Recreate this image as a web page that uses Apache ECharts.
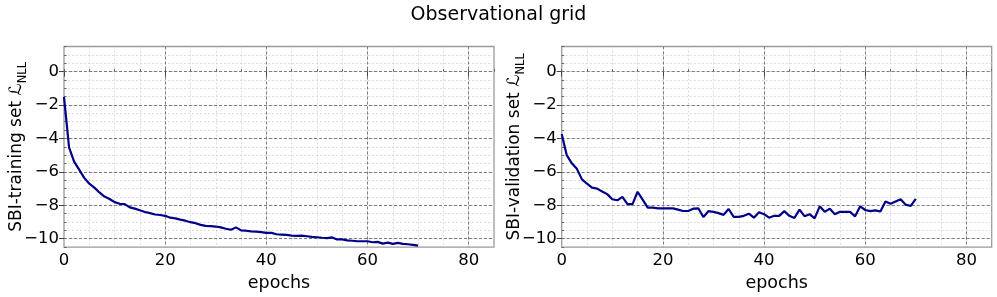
<!DOCTYPE html>
<html>
<head>
<meta charset="utf-8">
<script src="https://cdn.jsdelivr.net/npm/echarts@6/dist/echarts.min.js"></script>
<style>html,body{margin:0;padding:0;background:#fff}#c{width:997px;height:297px}</style>
</head>
<body>
<div id="c"></div>
<script>
const epochs = Array.from({length: 71}, (_, i) => i);
const trainLoss = [
  -1.51, -4.53, -5.39, -5.87, -6.36, -6.71, -6.94, -7.23, -7.48, -7.62,
  -7.81, -7.91, -7.93, -8.12, -8.20, -8.30, -8.40, -8.47, -8.55, -8.58,
  -8.63, -8.74, -8.78, -8.86, -8.92, -9.01, -9.07, -9.17, -9.23, -9.25,
  -9.27, -9.32, -9.40, -9.46, -9.32, -9.50, -9.52, -9.56, -9.58, -9.60,
  -9.65, -9.65, -9.73, -9.75, -9.77, -9.81, -9.83, -9.81, -9.85, -9.89,
  -9.91, -9.94, -9.96, -9.92, -10.04, -10.04, -10.10, -10.12, -10.15, -10.15,
  -10.15, -10.21, -10.19, -10.29, -10.23, -10.31, -10.25, -10.31, -10.33, -10.37,
  -10.41
];
const valLoss = [
  -3.74, -5.00, -5.49, -5.82, -6.45, -6.71, -6.94, -7.00, -7.17, -7.33,
  -7.64, -7.70, -7.50, -7.93, -7.93, -7.19, -7.66, -8.14, -8.14, -8.18,
  -8.18, -8.18, -8.18, -8.26, -8.34, -8.34, -8.20, -8.18, -8.70, -8.35,
  -8.39, -8.47, -8.57, -8.22, -8.69, -8.69, -8.63, -8.50, -8.74, -8.41,
  -8.53, -8.74, -8.63, -8.63, -8.35, -8.63, -8.76, -8.26, -8.65, -8.53,
  -8.78, -8.06, -8.39, -8.20, -8.53, -8.39, -8.39, -8.39, -8.66, -8.06,
  -8.28, -8.35, -8.30, -8.37, -7.77, -7.90, -7.77, -7.64, -7.96, -8.04,
  -7.62
];
const xTicks = [0, 20, 40, 60, 80];
const yTicks = [-10, -8, -6, -4, -2, 0];
const titleText = 'Observational grid';
const xName = 'epochs';
const yNames = ['SBI-training set ', 'SBI-validation set '];

const FONT = 'DejaVu Sans';
const X_MIN = 0, X_MAX = 85, Y_MIN = -10.5, Y_MAX = 1.5;
const fmtNum = v => (v < 0 ? '\u2212' + Math.abs(v) : String(v));

const grids = [
  {left: 64, top: 46.5, width: 430, height: 206},
  {left: 561.7, top: 46.5, width: 430, height: 206}
].map(g => Object.assign(g, {show: true, borderColor: '#9a9a9a', borderWidth: 1.3, backgroundColor: 'transparent', containLabel: false}));

const xAxes = [], yAxes = [], series = [];
[trainLoss, valLoss].forEach((data, gi) => {
  xAxes.push({
    type: 'value', gridIndex: gi, min: X_MIN, max: X_MAX, interval: 20,
    name: xName, nameLocation: 'middle', nameGap: 22,
    nameTextStyle: {fontFamily: FONT, fontSize: 17.5, color: '#000'},
    axisLine: {show: false},
    axisTick: {show: true, length: 5, lineStyle: {color: '#444'}},
    axisLabel: {fontFamily: FONT, fontSize: 16.5, color: '#000', margin: 5, showMaxLabel: false,
      formatter: v => (xTicks.indexOf(v) >= 0 ? fmtNum(v) : '')},
    splitLine: {show: true, showMinLine: false, showMaxLine: false, lineStyle: {color: '#707070', type: [3, 2], width: 0.9}},
    z: 3
  });
  xAxes.push({
    type: 'value', gridIndex: gi, min: X_MIN, max: X_MAX, interval: 5,
    axisLine: {show: false},
    axisTick: {show: true, length: 2.5, lineStyle: {color: '#666'}},
    axisLabel: {show: false},
    splitLine: {show: true, showMinLine: false, showMaxLine: false, lineStyle: {color: '#d4d4d4', type: [2, 2], width: 0.8}},
    z: 1
  });
  yAxes.push({
    type: 'value', gridIndex: gi, min: Y_MIN, max: Y_MAX, splitNumber: 6,
    name: '{a|' + yNames[gi] + '\u2112}{s|NLL}', nameLocation: 'middle', nameGap: 35, nameRotate: 90,
    nameMoveOverlap: false,
    nameTextStyle: {rich: {
      a: {fontFamily: FONT, fontSize: 17, color: '#000', verticalAlign: 'bottom', padding: [0, 0, 4, 0]},
      s: {fontFamily: FONT, fontSize: 11.5, color: '#000', verticalAlign: 'bottom'}
    }},
    axisLine: {show: false},
    axisTick: {show: true, length: 5, lineStyle: {color: '#444'}},
    axisLabel: {fontFamily: FONT, fontSize: 16.5, color: '#000', margin: 5, showMinLabel: false, showMaxLabel: false,
      formatter: v => (yTicks.indexOf(v) >= 0 ? fmtNum(v) : '')},
    splitLine: {show: true, showMinLine: false, showMaxLine: false, lineStyle: {color: '#707070', type: [3, 2], width: 0.9}},
    z: 3
  });
  yAxes.push({
    type: 'value', gridIndex: gi, min: Y_MIN, max: Y_MAX, interval: 0.5,
    axisLine: {show: false},
    axisTick: {show: true, length: 2.5, lineStyle: {color: '#666'}},
    axisLabel: {show: false},
    splitLine: {show: true, showMinLine: false, showMaxLine: false, lineStyle: {color: '#d4d4d4', type: [2, 2], width: 0.8}},
    z: 1
  });
  series.push({
    type: 'line', xAxisIndex: gi * 2, yAxisIndex: gi * 2,
    data: epochs.map((e, i) => [e, data[i]]),
    showSymbol: false, symbol: 'none',
    lineStyle: {color: '#00008b', width: 2.2},
    z: 5, silent: true
  });
});

const chart = echarts.init(document.getElementById('c'), null, {renderer: 'canvas'});
chart.setOption({
  animation: false,
  backgroundColor: '#fff',
  title: {text: titleText, left: 'center', top: 1,
    textStyle: {fontFamily: FONT, fontSize: 19, fontWeight: 'normal', color: '#000'}},
  grid: grids,
  xAxis: xAxes,
  yAxis: yAxes,
  series: series
});
</script>
</body>
</html>
